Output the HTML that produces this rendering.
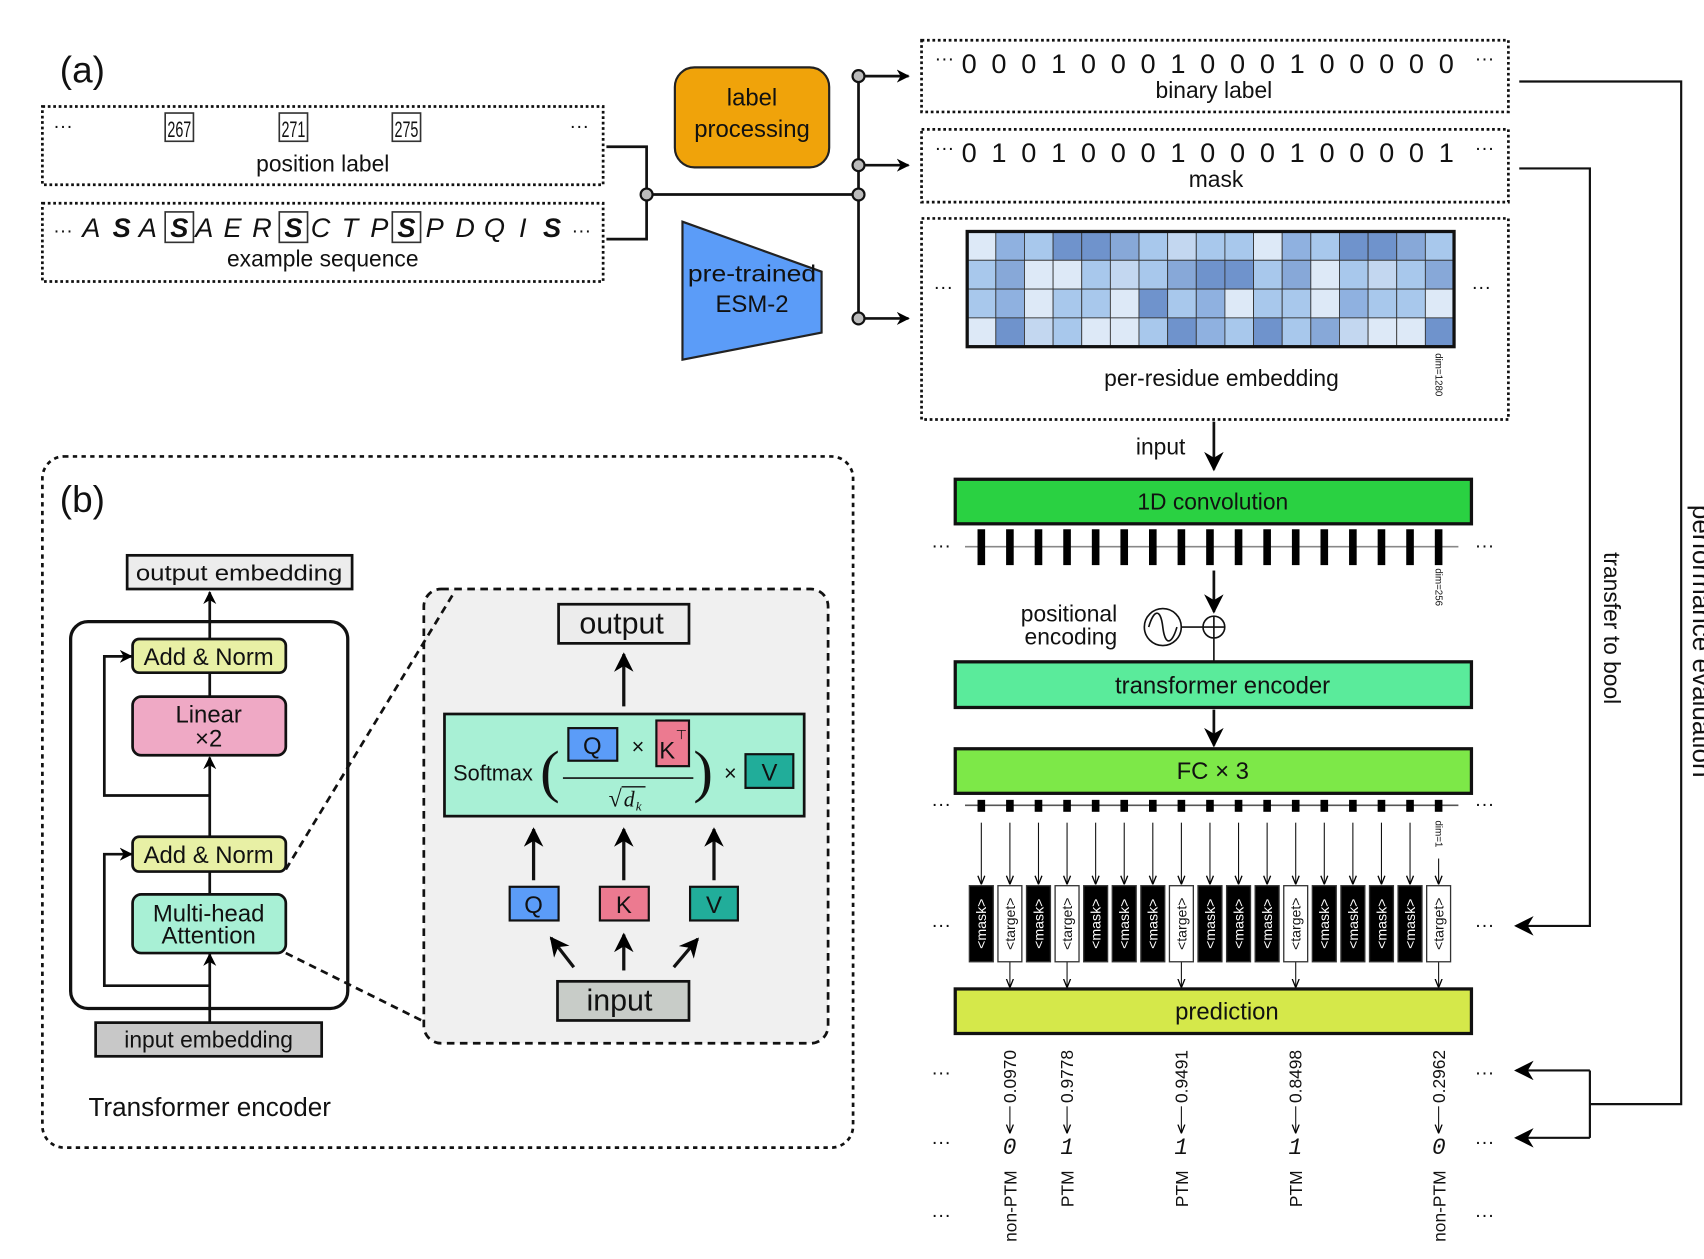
<!DOCTYPE html>
<html><head><meta charset="utf-8"><style>
html,body{margin:0;padding:0;background:#fff}
svg{display:block}
text{font-family:"Liberation Sans","DejaVu Sans",sans-serif;fill:#111}
</style></head><body>
<svg width="1704" height="1259" viewBox="0 0 1568 1158.5" xmlns="http://www.w3.org/2000/svg">
<defs>
<marker id="ar" viewBox="0 0 10 10" refX="9" refY="5" markerWidth="7" markerHeight="7" orient="auto" markerUnits="userSpaceOnUse"><path d="M0,0 L10,5 L0,10 L3,5 z" fill="#000"/></marker>
<marker id="ab" viewBox="0 0 10 10" refX="9" refY="5" markerWidth="18" markerHeight="18" orient="auto" markerUnits="userSpaceOnUse"><path d="M0,0 L10,5 L0,10 L3,5 z" fill="#000"/></marker>
<marker id="am" viewBox="0 0 10 10" refX="9" refY="5" markerWidth="12" markerHeight="12" orient="auto" markerUnits="userSpaceOnUse"><path d="M0,0 L10,5 L0,10 L3,5 z" fill="#000"/></marker>
<marker id="as" viewBox="0 0 10 10" refX="9" refY="5" markerWidth="8" markerHeight="8" orient="auto" markerUnits="userSpaceOnUse"><path d="M0,1 L10,5 L0,9" fill="none" stroke="#000" stroke-width="1.5"/></marker>
</defs>

<!-- (a) -->
<text x="55" y="76" font-size="34">(a)</text>
<rect x="39" y="98" width="516" height="72" fill="none" stroke="#111" stroke-width="2.5" stroke-dasharray="2.5,2.5"/>
<rect x="39" y="187" width="516" height="72" fill="none" stroke="#111" stroke-width="2.5" stroke-dasharray="2.5,2.5"/>
<text x="58" y="122" font-size="18" text-anchor="middle">···</text>
<text x="533" y="122" font-size="18" text-anchor="middle">···</text>
<g font-size="20" text-anchor="middle">
<rect x="152" y="104" width="26" height="26" fill="none" stroke="#333" stroke-width="1.5"/><text x="165" y="126" textLength="22" lengthAdjust="spacingAndGlyphs">267</text>
<rect x="257" y="104" width="26" height="26" fill="none" stroke="#333" stroke-width="1.5"/><text x="270" y="126" textLength="22" lengthAdjust="spacingAndGlyphs">271</text>
<rect x="361" y="104" width="26" height="26" fill="none" stroke="#333" stroke-width="1.5"/><text x="374" y="126" textLength="22" lengthAdjust="spacingAndGlyphs">275</text>
</g>
<text x="297" y="158" font-size="21" text-anchor="middle">position label</text>
<g font-size="25" text-anchor="middle" font-style="italic">
<text x="58" y="218" font-size="18" font-style="normal">···</text>
<text x="84" y="218">A</text><text x="112" y="218" font-weight="bold">S</text><text x="136" y="218">A</text>
<rect x="152" y="195" width="26" height="28" fill="none" stroke="#333" stroke-width="1.5"/><text x="165" y="218" font-weight="bold">S</text>
<text x="188" y="218">A</text><text x="214" y="218">E</text><text x="241" y="218">R</text>
<rect x="257" y="195" width="26" height="28" fill="none" stroke="#333" stroke-width="1.5"/><text x="270" y="218" font-weight="bold">S</text>
<text x="295" y="218">C</text><text x="322" y="218">T</text><text x="349" y="218">P</text>
<rect x="361" y="195" width="26" height="28" fill="none" stroke="#333" stroke-width="1.5"/><text x="374" y="218" font-weight="bold">S</text>
<text x="400" y="218">P</text><text x="428" y="218">D</text><text x="455" y="218">Q</text><text x="481" y="218">I</text><text x="508" y="218" font-weight="bold">S</text>
<text x="535" y="218" font-size="18" font-style="normal">···</text>
</g>
<text x="297" y="245" font-size="21" text-anchor="middle">example sequence</text>

<g stroke="#111" stroke-width="2.5" fill="none">
<path d="M558,135 H595 V220 H558"/>
<path d="M595,179 H790"/>
<path d="M790,70 V293"/>
<path d="M790,70 H836" marker-end="url(#am)"/>
<path d="M790,152 H836" marker-end="url(#am)"/>
<path d="M790,293 H836" marker-end="url(#am)"/>
</g>
<g fill="#bbb" stroke="#111" stroke-width="2">
<circle cx="595" cy="179" r="5.5"/><circle cx="790" cy="70" r="5.5"/><circle cx="790" cy="152" r="5.5"/><circle cx="790" cy="179" r="5.5"/><circle cx="790" cy="293" r="5.5"/>
</g>
<rect x="621" y="62" width="142" height="92" rx="18" fill="#f0a30a" stroke="#222" stroke-width="2"/>
<text x="692" y="97" font-size="22" text-anchor="middle">label</text>
<text x="692" y="126" font-size="22" text-anchor="middle">processing</text>
<polygon points="628,204 756,250 756,306 628,331" fill="#5b9cf8" stroke="#222" stroke-width="2"/>
<text x="692" y="259" font-size="21" text-anchor="middle" textLength="118" lengthAdjust="spacingAndGlyphs">pre-trained</text>
<text x="692" y="287" font-size="22" text-anchor="middle">ESM-2</text>

<!-- binary, mask, embedding -->
<g fill="none" stroke="#111" stroke-width="2.5" stroke-dasharray="2.5,2.5">
<rect x="848" y="37" width="540" height="66"/>
<rect x="848" y="119" width="540" height="67"/>
<rect x="848" y="201" width="540" height="185"/>
</g>
<text x="869" y="60" font-size="18" text-anchor="middle">···</text><text x="1366" y="60" font-size="18" text-anchor="middle">···</text>
<text x="1113" y="67" font-size="25" text-anchor="middle" letter-spacing="3.3">0 0 0 1 0 0 0 1 0 0 0 1 0 0 0 0 0</text>
<text x="1117" y="90" font-size="21" text-anchor="middle">binary label</text>
<text x="869" y="142" font-size="18" text-anchor="middle">···</text><text x="1366" y="142" font-size="18" text-anchor="middle">···</text>
<text x="1113" y="149" font-size="25" text-anchor="middle" letter-spacing="3.3">0 1 0 1 0 0 0 1 0 0 0 1 0 0 0 0 1</text>
<text x="1119" y="172" font-size="21" text-anchor="middle">mask</text>
<text x="868" y="270" font-size="18" text-anchor="middle">···</text><text x="1363" y="270" font-size="18" text-anchor="middle">···</text>

<g stroke="#333" stroke-width="0.8">
<rect x="890" y="213" width="26.35" height="26.5" fill="#dde9f7"/><rect x="916.35" y="213" width="26.35" height="26.5" fill="#8fb1e0"/><rect x="942.7" y="213" width="26.35" height="26.5" fill="#a8c8ec"/><rect x="969.05" y="213" width="26.35" height="26.5" fill="#6f93cc"/><rect x="995.4" y="213" width="26.35" height="26.5" fill="#6f93cc"/><rect x="1021.75" y="213" width="26.35" height="26.5" fill="#87a8d8"/><rect x="1048.1" y="213" width="26.35" height="26.5" fill="#a8c8ec"/><rect x="1074.45" y="213" width="26.35" height="26.5" fill="#c3d7f0"/><rect x="1100.8" y="213" width="26.35" height="26.5" fill="#a8c8ec"/><rect x="1127.15" y="213" width="26.35" height="26.5" fill="#a8c8ec"/><rect x="1153.5" y="213" width="26.35" height="26.5" fill="#dde9f7"/><rect x="1179.85" y="213" width="26.35" height="26.5" fill="#8fb1e0"/><rect x="1206.2" y="213" width="26.35" height="26.5" fill="#a8c8ec"/><rect x="1232.55" y="213" width="26.35" height="26.5" fill="#6f93cc"/><rect x="1258.9" y="213" width="26.35" height="26.5" fill="#6f93cc"/><rect x="1285.25" y="213" width="26.35" height="26.5" fill="#87a8d8"/><rect x="1311.6" y="213" width="26.35" height="26.5" fill="#a8c8ec"/>
<rect x="890" y="239.5" width="26.35" height="26.5" fill="#a8c8ec"/><rect x="916.35" y="239.5" width="26.35" height="26.5" fill="#87a8d8"/><rect x="942.7" y="239.5" width="26.35" height="26.5" fill="#dde9f7"/><rect x="969.05" y="239.5" width="26.35" height="26.5" fill="#dde9f7"/><rect x="995.4" y="239.5" width="26.35" height="26.5" fill="#a8c8ec"/><rect x="1021.75" y="239.5" width="26.35" height="26.5" fill="#c3d7f0"/><rect x="1048.1" y="239.5" width="26.35" height="26.5" fill="#a8c8ec"/><rect x="1074.45" y="239.5" width="26.35" height="26.5" fill="#87a8d8"/><rect x="1100.8" y="239.5" width="26.35" height="26.5" fill="#6f93cc"/><rect x="1127.15" y="239.5" width="26.35" height="26.5" fill="#6f93cc"/><rect x="1153.5" y="239.5" width="26.35" height="26.5" fill="#a8c8ec"/><rect x="1179.85" y="239.5" width="26.35" height="26.5" fill="#87a8d8"/><rect x="1206.2" y="239.5" width="26.35" height="26.5" fill="#dde9f7"/><rect x="1232.55" y="239.5" width="26.35" height="26.5" fill="#a8c8ec"/><rect x="1258.9" y="239.5" width="26.35" height="26.5" fill="#c3d7f0"/><rect x="1285.25" y="239.5" width="26.35" height="26.5" fill="#a8c8ec"/><rect x="1311.6" y="239.5" width="26.35" height="26.5" fill="#87a8d8"/>
<rect x="890" y="266" width="26.35" height="26.5" fill="#a8c8ec"/><rect x="916.35" y="266" width="26.35" height="26.5" fill="#8fb1e0"/><rect x="942.7" y="266" width="26.35" height="26.5" fill="#dde9f7"/><rect x="969.05" y="266" width="26.35" height="26.5" fill="#a8c8ec"/><rect x="995.4" y="266" width="26.35" height="26.5" fill="#a8c8ec"/><rect x="1021.75" y="266" width="26.35" height="26.5" fill="#dde9f7"/><rect x="1048.1" y="266" width="26.35" height="26.5" fill="#6f93cc"/><rect x="1074.45" y="266" width="26.35" height="26.5" fill="#a8c8ec"/><rect x="1100.8" y="266" width="26.35" height="26.5" fill="#8fb1e0"/><rect x="1127.15" y="266" width="26.35" height="26.5" fill="#dde9f7"/><rect x="1153.5" y="266" width="26.35" height="26.5" fill="#a8c8ec"/><rect x="1179.85" y="266" width="26.35" height="26.5" fill="#a8c8ec"/><rect x="1206.2" y="266" width="26.35" height="26.5" fill="#dde9f7"/><rect x="1232.55" y="266" width="26.35" height="26.5" fill="#8fb1e0"/><rect x="1258.9" y="266" width="26.35" height="26.5" fill="#a8c8ec"/><rect x="1285.25" y="266" width="26.35" height="26.5" fill="#a8c8ec"/><rect x="1311.6" y="266" width="26.35" height="26.5" fill="#dde9f7"/>
<rect x="890" y="292.5" width="26.35" height="26.5" fill="#dde9f7"/><rect x="916.35" y="292.5" width="26.35" height="26.5" fill="#6f93cc"/><rect x="942.7" y="292.5" width="26.35" height="26.5" fill="#c3d7f0"/><rect x="969.05" y="292.5" width="26.35" height="26.5" fill="#a8c8ec"/><rect x="995.4" y="292.5" width="26.35" height="26.5" fill="#dde9f7"/><rect x="1021.75" y="292.5" width="26.35" height="26.5" fill="#dde9f7"/><rect x="1048.1" y="292.5" width="26.35" height="26.5" fill="#a8c8ec"/><rect x="1074.45" y="292.5" width="26.35" height="26.5" fill="#6f93cc"/><rect x="1100.8" y="292.5" width="26.35" height="26.5" fill="#8fb1e0"/><rect x="1127.15" y="292.5" width="26.35" height="26.5" fill="#a8c8ec"/><rect x="1153.5" y="292.5" width="26.35" height="26.5" fill="#6f93cc"/><rect x="1179.85" y="292.5" width="26.35" height="26.5" fill="#a8c8ec"/><rect x="1206.2" y="292.5" width="26.35" height="26.5" fill="#87a8d8"/><rect x="1232.55" y="292.5" width="26.35" height="26.5" fill="#c3d7f0"/><rect x="1258.9" y="292.5" width="26.35" height="26.5" fill="#dde9f7"/><rect x="1285.25" y="292.5" width="26.35" height="26.5" fill="#dde9f7"/><rect x="1311.6" y="292.5" width="26.35" height="26.5" fill="#6f93cc"/>
</g>
<rect x="890" y="213" width="448" height="106" fill="none" stroke="#111" stroke-width="3"/>
<text x="1124" y="355" font-size="21" text-anchor="middle">per-residue embedding</text>
<text transform="translate(1321,325) rotate(90)" font-size="9">dim=1280</text>

<!-- pipeline -->
<text x="1068" y="418" font-size="21" text-anchor="middle">input</text>
<path d="M1117,388 V432" stroke="#111" stroke-width="2.5" marker-end="url(#ab)"/>
<rect x="879" y="441" width="475" height="41" fill="#2ad142" stroke="#111" stroke-width="3"/>
<text x="1116" y="469" font-size="21" text-anchor="middle">1D convolution</text>
<path d="M888,503 H1342" stroke="#888" stroke-width="1.5"/>
<g fill="#000">
<rect x="899.5" y="487" width="7" height="33"/><rect x="925.8" y="487" width="7" height="33"/><rect x="952.1" y="487" width="7" height="33"/><rect x="978.4" y="487" width="7" height="33"/><rect x="1004.7" y="487" width="7" height="33"/><rect x="1031" y="487" width="7" height="33"/><rect x="1057.3" y="487" width="7" height="33"/><rect x="1083.6" y="487" width="7" height="33"/><rect x="1109.9" y="487" width="7" height="33"/><rect x="1136.2" y="487" width="7" height="33"/><rect x="1162.5" y="487" width="7" height="33"/><rect x="1188.8" y="487" width="7" height="33"/><rect x="1215.1" y="487" width="7" height="33"/><rect x="1241.4" y="487" width="7" height="33"/><rect x="1267.7" y="487" width="7" height="33"/><rect x="1294" y="487" width="7" height="33"/><rect x="1320.3" y="487" width="7" height="33"/>
</g>
<text x="866" y="508" font-size="18" text-anchor="middle">···</text><text x="1366" y="508" font-size="18" text-anchor="middle">···</text>
<text transform="translate(1321,523) rotate(90)" font-size="9">dim=256</text>
<path d="M1117,525 V563" stroke="#111" stroke-width="2.5" marker-end="url(#ab)"/>
<circle cx="1117" cy="577" r="10" fill="none" stroke="#111" stroke-width="1.5"/>
<path d="M1107,577 H1127 M1117,567 V609" stroke="#111" stroke-width="1.5"/>
<circle cx="1070" cy="577" r="17" fill="none" stroke="#111" stroke-width="1.5"/>
<path d="M1057,577 C1062,560 1068,560 1070,577 C1072,594 1078,594 1083,577" fill="none" stroke="#111" stroke-width="1.5"/>
<path d="M1087,577 H1107" stroke="#111" stroke-width="1.5"/>
<text x="1028" y="572" font-size="21" text-anchor="end">positional</text>
<text x="1028" y="593" font-size="21" text-anchor="end">encoding</text>
<rect x="879" y="609" width="475" height="42" fill="#5aeb9b" stroke="#111" stroke-width="3"/>
<text x="1125" y="638" font-size="22" text-anchor="middle">transformer encoder</text>
<path d="M1117,653 V686" stroke="#111" stroke-width="2.5" marker-end="url(#ab)"/>
<rect x="879" y="689" width="475" height="41" fill="#7de848" stroke="#111" stroke-width="3"/>
<text x="1116" y="717" font-size="22" text-anchor="middle">FC × 3</text>
<path d="M888,741 H1342" stroke="#555" stroke-width="1.5"/>
<g fill="#000">
<rect x="899.5" y="736" width="7" height="11"/><rect x="925.8" y="736" width="7" height="11"/><rect x="952.1" y="736" width="7" height="11"/><rect x="978.4" y="736" width="7" height="11"/><rect x="1004.7" y="736" width="7" height="11"/><rect x="1031" y="736" width="7" height="11"/><rect x="1057.3" y="736" width="7" height="11"/><rect x="1083.6" y="736" width="7" height="11"/><rect x="1109.9" y="736" width="7" height="11"/><rect x="1136.2" y="736" width="7" height="11"/><rect x="1162.5" y="736" width="7" height="11"/><rect x="1188.8" y="736" width="7" height="11"/><rect x="1215.1" y="736" width="7" height="11"/><rect x="1241.4" y="736" width="7" height="11"/><rect x="1267.7" y="736" width="7" height="11"/><rect x="1294" y="736" width="7" height="11"/><rect x="1320.3" y="736" width="7" height="11"/>
</g>
<text x="866" y="746" font-size="18" text-anchor="middle">···</text><text x="1366" y="746" font-size="18" text-anchor="middle">···</text>
<text transform="translate(1321,755) rotate(90)" font-size="9">dim=1</text>
<g stroke="#111" stroke-width="1" marker-end="url(#as)">
<path d="M903,757 V813"/><path d="M929.3,757 V813"/><path d="M955.6,757 V813"/><path d="M981.9,757 V813"/><path d="M1008.2,757 V813"/><path d="M1034.5,757 V813"/><path d="M1060.8,757 V813"/><path d="M1087.1,757 V813"/><path d="M1113.4,757 V813"/><path d="M1139.7,757 V813"/><path d="M1166,757 V813"/><path d="M1192.3,757 V813"/><path d="M1218.6,757 V813"/><path d="M1244.9,757 V813"/><path d="M1271.2,757 V813"/><path d="M1297.5,757 V813"/><path d="M1323.8,790 V813"/>
<path d="M929.3,885 V908"/><path d="M981.9,885 V908"/><path d="M1087.1,885 V908"/><path d="M1192.3,885 V908"/><path d="M1323.8,885 V908"/>
</g>
<g stroke="#333" stroke-width="1.2">
<rect x="892" y="815" width="22" height="70" fill="#000"/><rect x="918.3" y="815" width="22" height="70" fill="#fff"/><rect x="944.6" y="815" width="22" height="70" fill="#000"/><rect x="970.9" y="815" width="22" height="70" fill="#fff"/><rect x="997.2" y="815" width="22" height="70" fill="#000"/><rect x="1023.5" y="815" width="22" height="70" fill="#000"/><rect x="1049.8" y="815" width="22" height="70" fill="#000"/><rect x="1076.1" y="815" width="22" height="70" fill="#fff"/><rect x="1102.4" y="815" width="22" height="70" fill="#000"/><rect x="1128.7" y="815" width="22" height="70" fill="#000"/><rect x="1155" y="815" width="22" height="70" fill="#000"/><rect x="1181.3" y="815" width="22" height="70" fill="#fff"/><rect x="1207.6" y="815" width="22" height="70" fill="#000"/><rect x="1233.9" y="815" width="22" height="70" fill="#000"/><rect x="1260.2" y="815" width="22" height="70" fill="#000"/><rect x="1286.5" y="815" width="22" height="70" fill="#000"/><rect x="1312.8" y="815" width="22" height="70" fill="#fff"/>
</g>
<g font-size="13" text-anchor="middle">
<text transform="translate(907.5,850) rotate(-90)" style="fill:#fff">&lt;mask&gt;</text>
<text transform="translate(933.8,850) rotate(-90)">&lt;target&gt;</text>
<text transform="translate(960.1,850) rotate(-90)" style="fill:#fff">&lt;mask&gt;</text>
<text transform="translate(986.4,850) rotate(-90)">&lt;target&gt;</text>
<text transform="translate(1012.7,850) rotate(-90)" style="fill:#fff">&lt;mask&gt;</text>
<text transform="translate(1039,850) rotate(-90)" style="fill:#fff">&lt;mask&gt;</text>
<text transform="translate(1065.3,850) rotate(-90)" style="fill:#fff">&lt;mask&gt;</text>
<text transform="translate(1091.6,850) rotate(-90)">&lt;target&gt;</text>
<text transform="translate(1117.9,850) rotate(-90)" style="fill:#fff">&lt;mask&gt;</text>
<text transform="translate(1144.2,850) rotate(-90)" style="fill:#fff">&lt;mask&gt;</text>
<text transform="translate(1170.5,850) rotate(-90)" style="fill:#fff">&lt;mask&gt;</text>
<text transform="translate(1196.8,850) rotate(-90)">&lt;target&gt;</text>
<text transform="translate(1223.1,850) rotate(-90)" style="fill:#fff">&lt;mask&gt;</text>
<text transform="translate(1249.4,850) rotate(-90)" style="fill:#fff">&lt;mask&gt;</text>
<text transform="translate(1275.7,850) rotate(-90)" style="fill:#fff">&lt;mask&gt;</text>
<text transform="translate(1302,850) rotate(-90)" style="fill:#fff">&lt;mask&gt;</text>
<text transform="translate(1328.3,850) rotate(-90)">&lt;target&gt;</text>
</g>
<text x="866" y="857" font-size="18" text-anchor="middle">···</text><text x="1366" y="857" font-size="18" text-anchor="middle">···</text>
<rect x="879" y="910" width="475" height="41" fill="#d5e84a" stroke="#111" stroke-width="3"/>
<text x="1129" y="938" font-size="22" text-anchor="middle">prediction</text>

<g font-size="16">
<text transform="translate(935,1015) rotate(-90)">0.0970</text>
<text transform="translate(987.5,1015) rotate(-90)">0.9778</text>
<text transform="translate(1092.5,1015) rotate(-90)">0.9491</text>
<text transform="translate(1197.5,1015) rotate(-90)">0.8498</text>
<text transform="translate(1329.5,1015) rotate(-90)">0.2962</text>
</g>
<g stroke="#111" stroke-width="1" marker-end="url(#as)">
<path d="M929.3,1018 V1042"/><path d="M981.9,1018 V1042"/><path d="M1087.1,1018 V1042"/><path d="M1192.3,1018 V1042"/><path d="M1323.8,1018 V1042"/>
</g>
<g font-size="21" font-style="italic" text-anchor="middle">
<text x="929" y="1062" style="font-family:'Liberation Mono',monospace">0</text>
<text x="982" y="1062" style="font-family:'Liberation Mono',monospace">1</text>
<text x="1087" y="1062" style="font-family:'Liberation Mono',monospace">1</text>
<text x="1192" y="1062" style="font-family:'Liberation Mono',monospace">1</text>
<text x="1324" y="1062" style="font-family:'Liberation Mono',monospace">0</text>
</g>
<g font-size="16" text-anchor="end">
<text transform="translate(935.5,1077) rotate(-90)">non-PTM</text>
<text transform="translate(988,1077) rotate(-90)">PTM</text>
<text transform="translate(1093,1077) rotate(-90)">PTM</text>
<text transform="translate(1198,1077) rotate(-90)">PTM</text>
<text transform="translate(1330,1077) rotate(-90)">non-PTM</text>
</g>
<g font-size="18" text-anchor="middle">
<text x="866" y="993">···</text><text x="1366" y="993">···</text>
<text x="866" y="1057">···</text><text x="1366" y="1057">···</text>
<text x="866" y="1124">···</text><text x="1366" y="1124">···</text>
</g>

<!-- right connectors -->
<g stroke="#111" stroke-width="2" fill="none">
<path d="M1398,75 H1547 V1016 H1463"/>
<path d="M1463,985 V1047"/>
<path d="M1463,985 H1395" marker-end="url(#ab)"/>
<path d="M1463,1047 H1395" marker-end="url(#ab)"/>
<path d="M1398,155 H1463 V852 H1395" marker-end="url(#ab)"/>
</g>
<text transform="translate(1476,578) rotate(90)" font-size="21" text-anchor="middle">transfer to bool</text>
<text transform="translate(1558,590) rotate(90)" font-size="24" text-anchor="middle">performance evaluation</text>

<!-- (b) -->
<rect x="39" y="420" width="746" height="636" rx="20" fill="none" stroke="#111" stroke-width="2.5" stroke-dasharray="4,4"/>
<text x="55" y="471" font-size="34">(b)</text>
<rect x="117" y="511" width="207" height="31" fill="#ececec" stroke="#111" stroke-width="2.5"/>
<text x="220" y="534" font-size="20" text-anchor="middle" textLength="190" lengthAdjust="spacingAndGlyphs">output embedding</text>
<rect x="65" y="572" width="255" height="356" rx="16" fill="none" stroke="#111" stroke-width="3"/>
<g stroke="#111" stroke-width="2.5" fill="none">
<path d="M193,940 V878" marker-end="url(#am)"/>
<path d="M193,823 V802"/>
<path d="M193,770 V697" marker-end="url(#am)"/>
<path d="M193,641 V619"/>
<path d="M193,588 V545" marker-end="url(#am)"/>
<path d="M193,907 H96 V786 H121" marker-end="url(#am)"/>
<path d="M193,732 H96 V604 H121" marker-end="url(#am)"/>
</g>
<rect x="122" y="588" width="141" height="31" rx="6" fill="#e8f0a5" stroke="#111" stroke-width="2.5"/>
<text x="192" y="612" font-size="22" text-anchor="middle">Add &amp; Norm</text>
<rect x="122" y="641" width="141" height="54" rx="8" fill="#efa9c5" stroke="#111" stroke-width="2.5"/>
<text x="192" y="665" font-size="22" text-anchor="middle">Linear</text>
<text x="192" y="687" font-size="22" text-anchor="middle">×2</text>
<rect x="122" y="770" width="141" height="32" rx="6" fill="#e8f0a5" stroke="#111" stroke-width="2.5"/>
<text x="192" y="794" font-size="22" text-anchor="middle">Add &amp; Norm</text>
<rect x="122" y="823" width="141" height="54" rx="8" fill="#a8f0d5" stroke="#111" stroke-width="2.5"/>
<text x="192" y="848" font-size="22" text-anchor="middle">Multi-head</text>
<text x="192" y="868" font-size="22" text-anchor="middle">Attention</text>
<rect x="88" y="941" width="208" height="31" fill="#c8c8c8" stroke="#111" stroke-width="2.5"/>
<text x="192" y="964" font-size="21" text-anchor="middle">input embedding</text>
<text x="193" y="1027" font-size="24" text-anchor="middle">Transformer encoder</text>

<rect x="390" y="542" width="372" height="418" rx="16" fill="#f0f0f0" stroke="#111" stroke-width="2.5" stroke-dasharray="7,5"/>
<path d="M263,800 L418,545 M263,877 L390,940" stroke="#111" stroke-width="2.5" stroke-dasharray="7,5" fill="none"/>
<rect x="514" y="556" width="120" height="36" fill="#ececec" stroke="#111" stroke-width="2.5"/>
<text x="572" y="583" font-size="28" text-anchor="middle">output</text>
<g stroke="#111" stroke-width="3" fill="none">
<path d="M574,650 V602" marker-end="url(#ab)"/>
<path d="M491,810 V763" marker-end="url(#ab)"/>
<path d="M574,810 V763" marker-end="url(#ab)"/>
<path d="M657,810 V763" marker-end="url(#ab)"/>
<path d="M528,890 L507,863" marker-end="url(#ab)"/>
<path d="M574,893 V860" marker-end="url(#ab)"/>
<path d="M620,890 L642,864" marker-end="url(#ab)"/>
</g>
<rect x="409" y="657" width="331" height="94" fill="#a8f0d5" stroke="#111" stroke-width="2.5"/>
<text x="417" y="718" font-size="20">Softmax</text>
<text x="497" y="728" font-size="54" style="font-family:'Liberation Serif',serif">(</text>
<text x="638" y="728" font-size="54" style="font-family:'Liberation Serif',serif">)</text>
<rect x="523" y="670" width="45" height="30" fill="#5b9cf8" stroke="#111" stroke-width="2"/>
<text x="545" y="694" font-size="22" text-anchor="middle">Q</text>
<text x="587" y="694" font-size="20" text-anchor="middle">×</text>
<rect x="604" y="663" width="30" height="42" fill="#ec7a90" stroke="#111" stroke-width="2"/>
<text x="614" y="698" font-size="22" text-anchor="middle">K</text><text x="627" y="680" font-size="12" text-anchor="middle">⊤</text>
<path d="M518,716 H638" stroke="#111" stroke-width="1.5"/>
<text x="560" y="742" font-size="22" style="font-family:'Liberation Serif',serif">√</text>
<path d="M572,724 H594" stroke="#111" stroke-width="1.2"/>
<text x="574" y="742" font-size="20" font-style="italic" style="font-family:'Liberation Serif',serif">d</text>
<text x="585" y="746" font-size="12" font-style="italic" style="font-family:'Liberation Serif',serif">k</text>
<text x="672" y="718" font-size="20" text-anchor="middle">×</text>
<rect x="686" y="694" width="44" height="31" fill="#21ad9a" stroke="#111" stroke-width="2"/>
<text x="708" y="718" font-size="22" text-anchor="middle">V</text>
<rect x="469" y="816" width="45" height="31" fill="#5b9cf8" stroke="#111" stroke-width="2"/>
<text x="491" y="840" font-size="22" text-anchor="middle">Q</text>
<rect x="552" y="816" width="45" height="31" fill="#ec7a90" stroke="#111" stroke-width="2"/>
<text x="574" y="840" font-size="22" text-anchor="middle">K</text>
<rect x="635" y="816" width="44" height="31" fill="#21ad9a" stroke="#111" stroke-width="2"/>
<text x="657" y="840" font-size="22" text-anchor="middle">V</text>
<rect x="513" y="903" width="121" height="36" fill="#c8ccc8" stroke="#111" stroke-width="2.5"/>
<text x="570" y="930" font-size="28" text-anchor="middle">input</text>
</svg>
</body></html>
